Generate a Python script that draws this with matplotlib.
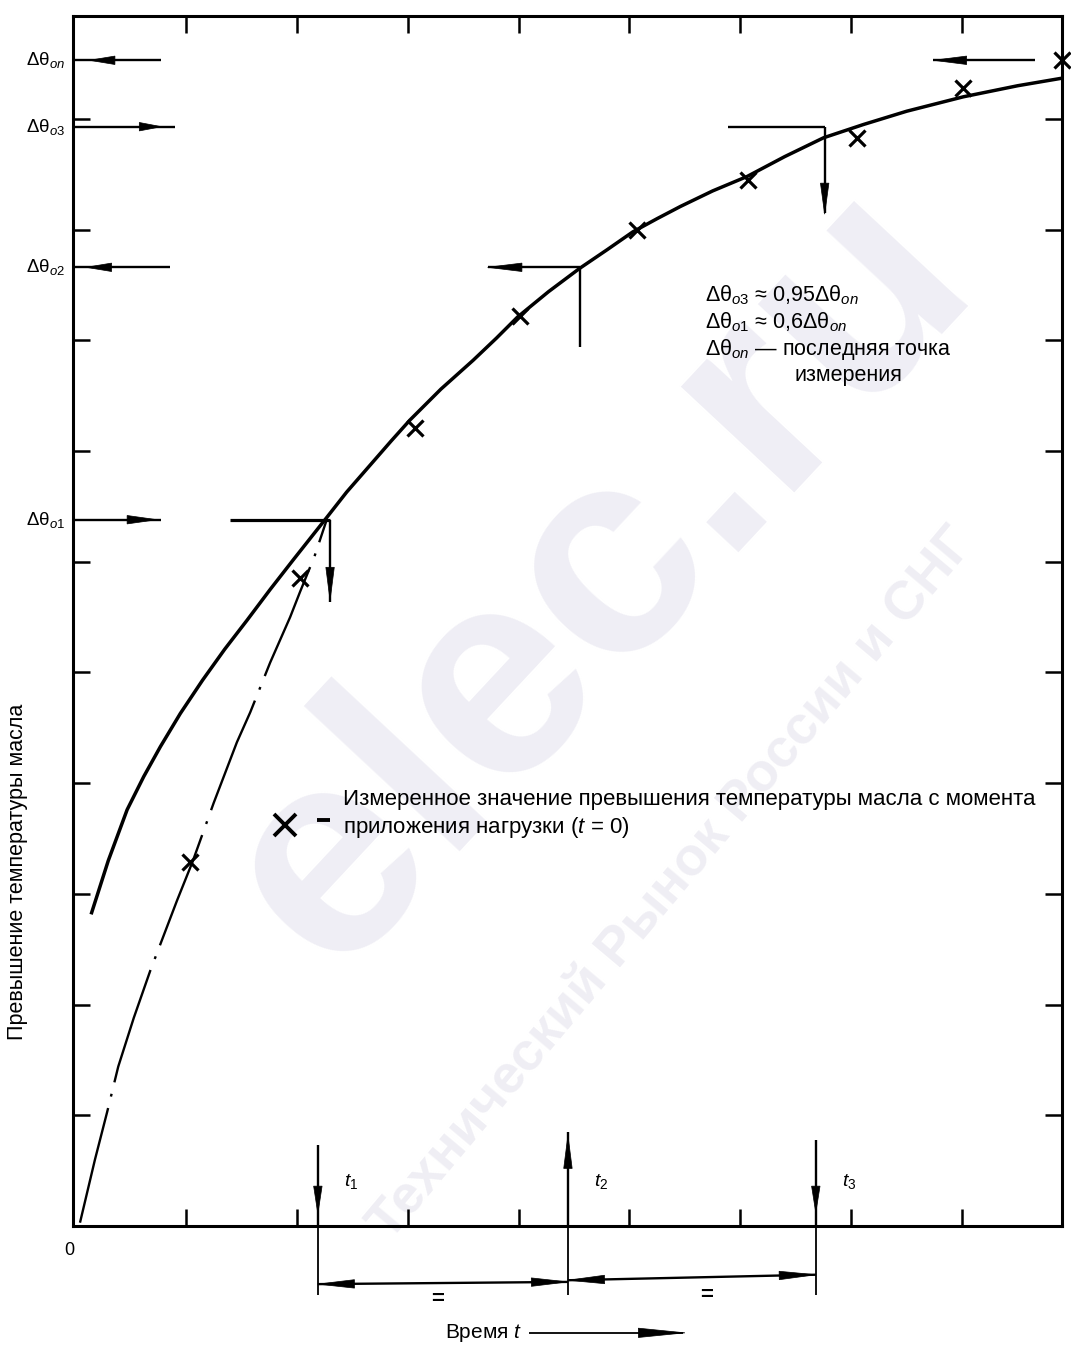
import numpy as np
import matplotlib
matplotlib.use("Agg")
import matplotlib.pyplot as plt
from matplotlib.patches import Polygon

plt.rcParams['font.family'] = ['Liberation Sans', 'DejaVu Sans']
plt.rcParams['mathtext.fontset'] = 'custom'
plt.rcParams['mathtext.rm'] = 'Liberation Sans'
plt.rcParams['mathtext.it'] = 'Liberation Sans:italic'

# heating curve (time in tick units, rise in tick units)
curve_t = [0.15, 0.30, 0.47, 0.62, 0.77, 0.95, 1.15, 1.35, 1.55, 1.76, 1.97,
           2.27, 2.45, 2.65, 2.85, 3.02, 3.30, 3.59, 3.80, 3.99, 4.27, 4.55,
           4.80, 5.03, 5.25, 5.46, 5.75, 6.06, 6.40, 6.75, 7.11, 7.50, 8.01,
           8.50, 8.91]
curve_v = [2.83, 3.30, 3.76, 4.06, 4.33, 4.63, 4.93, 5.21, 5.47, 5.75, 6.02,
           6.40, 6.63, 6.86, 7.09, 7.28, 7.56, 7.82, 8.02, 8.21, 8.44, 8.65,
           8.82, 8.98, 9.10, 9.21, 9.35, 9.48, 9.66, 9.83, 9.95, 10.07, 10.20,
           10.30, 10.37]

# extrapolated start (dash-dot)
early_t = [0.045, 0.18, 0.29, 0.39, 0.53, 0.68, 0.92, 1.06, 1.25, 1.46, 1.58,
           1.76, 1.94, 2.03, 2.16, 2.27]
early_v = [0.03, 0.60, 1.03, 1.44, 1.88, 2.31, 2.94, 3.29, 3.82, 4.37, 4.64,
           5.09, 5.50, 5.73, 6.05, 6.38]

# measured points
meas_t = [1.04, 2.03, 3.07, 4.01, 5.07, 6.07, 7.05, 8.01, 8.90]
meas_v = [3.29, 5.85, 7.21, 8.22, 9.00, 9.45, 9.83, 10.28, 10.53]

# levels on the rise axis
lev_names = ['on', 'o3', 'o2', 'o1']
lev_vals = [10.53, 9.93, 8.66, 6.38]
# where the levels meet the curve
lev_cross = [8.90, 6.76, 4.55, 2.30]

# time marks
t_names = ['1', '2', '3']
t_vals = [2.19, 4.445, 6.68]

x_ticks = [1, 2, 3, 4, 5, 6, 7, 8]
y_ticks = [1, 2, 3, 4, 5, 6, 7, 8, 9, 10]

fig = plt.figure(figsize=(10.71, 13.49), dpi=100)
ax = fig.add_axes([73 / 1071, 123 / 1349, (1062 - 73) / 1071, (1226 - 16) / 1349])
ax.set_xlim(-0.018, 8.9)
ax.set_ylim(0, 10.93)
for s in ax.spines.values():
    s.set_linewidth(2.2)
ax.set_xticks(x_ticks)
ax.set_yticks(y_ticks)
ax.tick_params(direction='in', top=True, right=True, length=12, width=1.8,
               labelbottom=False, labelleft=False)


def head(tip, base, w=0.038):
    tip = np.array(tip, float)
    base = np.array(base, float)
    d = tip - base
    n = np.array([-d[1], d[0]]) / np.hypot(*d) * w
    ax.add_patch(Polygon([tip, base + n, base - n], closed=True, fc='k', ec='k',
                         lw=0.5, clip_on=False, zorder=5))


def seg(x0, y0, x1, y1, lw=1.7):
    ax.plot([x0, x1], [y0, y1], color='k', lw=lw, clip_on=False, zorder=4,
            solid_capstyle='butt')


# watermark (under everything else)
ax.text(600 / 1071, 1 - 578 / 1349, 'elec.ru', fontsize=212, fontweight='bold',
        color='#efeef5', rotation=47, ha='center', va='center', zorder=0.5,
        transform=fig.transFigure, clip_on=False)
ax.text(672 / 1071, 1 - 884 / 1349, 'Технический Рынок России и СНГ', fontsize=39,
        fontweight='bold', color='#efeef4', rotation=50, ha='center',
        va='center', zorder=0.5, transform=fig.transFigure, clip_on=False)

# curves and points
ax.plot(curve_t, curve_v, color='k', lw=2.5, zorder=3, solid_joinstyle='round')
ax.plot(early_t, early_v, color='k', lw=1.7, zorder=3,
        linestyle=(0, (50, 5, 1.2, 5)))
ax.plot(meas_t, meas_v, linestyle='none', marker='x', ms=12, mew=2.3,
        color='k', zorder=4, clip_on=False)

# level arrows on the left axis
seg(0, lev_vals[0], 0.78, lev_vals[0])
head((0.13, lev_vals[0]), (0.36, lev_vals[0]))
seg(0, lev_vals[1], 0.90, lev_vals[1])
head((0.78, lev_vals[1]), (0.58, lev_vals[1]))
seg(0, lev_vals[2], 0.86, lev_vals[2])
head((0.10, lev_vals[2]), (0.33, lev_vals[2]))
seg(0, lev_vals[3], 0.78, lev_vals[3])
head((0.74, lev_vals[3]), (0.47, lev_vals[3]))

for name, v in zip(lev_names, lev_vals):
    ax.text(-0.09, v, r'$\mathrm{Δθ}_{\mathit{%s}}$' % name, fontsize=13.5,
            ha='right', va='center')

# interior construction lines
seg(7.74, lev_vals[0], 8.66, lev_vals[0])
head((7.74, lev_vals[0]), (8.04, lev_vals[0]))

seg(5.89, lev_vals[1], lev_cross[1], lev_vals[1])
seg(lev_cross[1], lev_vals[1], lev_cross[1], 9.15)
head((lev_cross[1], 9.14), (lev_cross[1], 9.42))

seg(3.72, lev_vals[2], lev_cross[2], lev_vals[2])
head((3.72, lev_vals[2]), (4.03, lev_vals[2]))
seg(lev_cross[2], lev_vals[2], lev_cross[2], 7.94)

seg(1.40, lev_vals[3], lev_cross[3], lev_vals[3], lw=2.3)
seg(lev_cross[3], lev_vals[3], lev_cross[3], 5.64)
head((lev_cross[3], 5.65), (lev_cross[3], 5.95))

# time marks
seg(t_vals[0], 0.73, t_vals[0], 0)
head((t_vals[0], 0.11), (t_vals[0], 0.36))
seg(t_vals[1], 0, t_vals[1], 0.85)
head((t_vals[1], 0.82), (t_vals[1], 0.52))
seg(t_vals[2], 0.78, t_vals[2], 0)
head((t_vals[2], 0.12), (t_vals[2], 0.36))
for name, t in zip(t_names, t_vals):
    ax.text(t + 0.30, 0.40, r'$t_{\mathrm{%s}}$' % name, fontsize=14,
            ha='center', va='center')

# dimension lines below the axis
for t in t_vals:
    seg(t, 0, t, -0.62, lw=1.3)
seg(t_vals[0], -0.525, t_vals[1], -0.505)
head((t_vals[0], -0.525), (t_vals[0] + 0.33, -0.523))
head((t_vals[1], -0.505), (t_vals[1] - 0.33, -0.507))
seg(t_vals[1], -0.49, t_vals[2], -0.44)
head((t_vals[1], -0.49), (t_vals[1] + 0.33, -0.483))
head((t_vals[2], -0.44), (t_vals[2] - 0.33, -0.447))
ax.text((t_vals[0] + t_vals[1]) / 2 - 0.05, -0.66, '=', fontsize=16,
        ha='center', va='center', fontweight='bold')
ax.text((t_vals[1] + t_vals[2]) / 2 + 0.13, -0.63, '=', fontsize=16,
        ha='center', va='center', fontweight='bold')

ax.text(-0.05, -0.22, '0', fontsize=13, ha='center', va='center')

# axis titles
ax.text(3.68, -0.965, r'Время $t$', fontsize=15, ha='center', va='center')
seg(4.09, -0.965, 5.48, -0.965, lw=1.3)
head((5.50, -0.965), (5.08, -0.965), w=0.042)
fig.text(18 / 1071, 1 - 872 / 1349, 'Превышение температуры масла', fontsize=15.5,
         rotation=90, ha='center', va='center')

# notes
note_lines = [r'$\mathrm{Δθ}_{\mathit{o3}}$ ≈ 0,95$\mathrm{Δθ}_{\mathit{on}}$',
              r'$\mathrm{Δθ}_{\mathit{o1}}$ ≈ 0,6$\mathrm{Δθ}_{\mathit{on}}$',
              r'$\mathrm{Δθ}_{\mathit{on}}$ — последняя точка']
for i, line in enumerate(note_lines):
    ax.text(5.68, 8.41 - 0.245 * i, line, fontsize=15.5, ha='left', va='center',
            zorder=6)
ax.text(6.97, 7.68, 'измерения', fontsize=15.5, ha='center', va='center', zorder=6)

ax.plot([1.89], [3.62], linestyle='none', marker='x', ms=16, mew=2.8, color='k',
        zorder=6)
seg(2.18, 3.67, 2.30, 3.67, lw=2.8)
ax.text(2.42, 3.85, 'Измеренное значение превышения температуры масла с момента',
        fontsize=16, ha='left', va='center', zorder=6)
ax.text(2.42, 3.60, r'приложения нагрузки ($t$ = 0)', fontsize=16,
        ha='left', va='center', zorder=6)

fig.savefig('out.png', dpi=100)
